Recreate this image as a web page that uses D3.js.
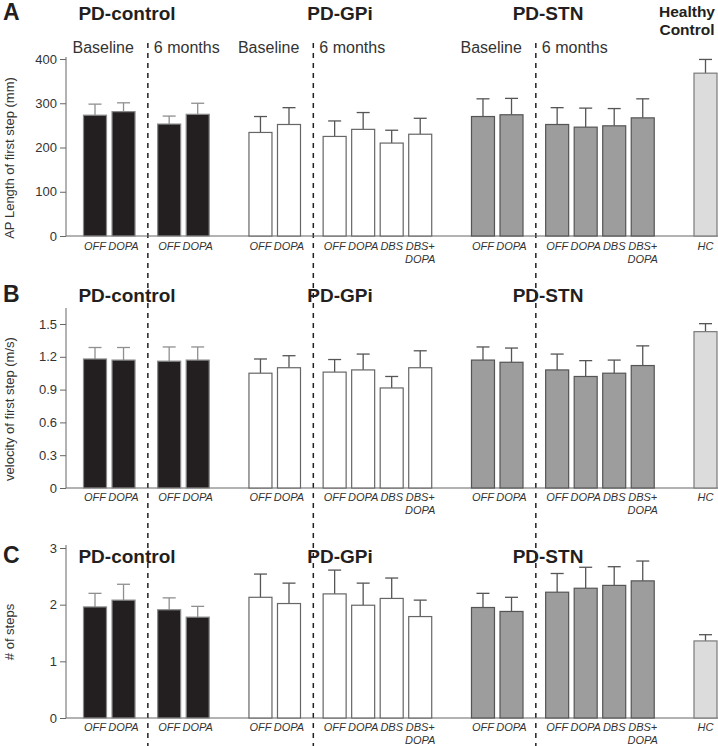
<!DOCTYPE html>
<html lang="en">
<head>
    <meta charset="UTF-8">
    <title>First step parameters</title>
    <script src="https://cdnjs.cloudflare.com/ajax/libs/d3/7.8.5/d3.min.js"></script>
    <style>
        body {
            margin: 0;
            background: #fff;
            font-family: Arial, "Liberation Sans", sans-serif;
        }
        .group-title {
            font-weight: bold;
            font-size: 19px;
            fill: #231f20;
            text-anchor: middle;
        }
        .panel-letter {
            font-weight: bold;
            font-size: 23px;
            fill: #231f20;
        }
        .phase-label {
            font-size: 16px;
            fill: #333;
        }
        .cat-label {
            font-size: 11px;
            font-style: italic;
            fill: #333;
            text-anchor: middle;
        }
        .y-label {
            font-size: 13px;
            fill: #333;
            text-anchor: middle;
        }
        .axis path, .axis line {
            stroke: #666;
        }
        .axis text {
            font-size: 13px;
            fill: #333;
            font-family: Arial, "Liberation Sans", sans-serif;
        }
    </style>
</head>
<body>
    <div id="chart"></div>

    <script>
        // Groups, phases and conditions (one entry per bar, left to right)
        const groups = ["PD-control", "PD-GPi", "PD-STN", "Healthy Control"];
        const phases = ["Baseline", "6 months"];
        const barGroup = [0, 0, 0, 0, 1, 1, 1, 1, 1, 1, 2, 2, 2, 2, 2, 2, 3];
        const barPhase = [0, 0, 1, 1, 0, 0, 1, 1, 1, 1, 0, 0, 1, 1, 1, 1, 0];
        const conditions = ["OFF", "DOPA", "OFF", "DOPA",
                            "OFF", "DOPA", "OFF", "DOPA", "DBS", "DBS+\nDOPA",
                            "OFF", "DOPA", "OFF", "DOPA", "DBS", "DBS+\nDOPA",
                            "HC"];

        // A: AP length of first step (mm)
        const apLength = [273, 281, 253, 275, 234, 252, 225, 241, 210, 230, 270, 274, 252, 246, 249, 267, 368];
        const apLengthErr = [25, 20, 18, 25, 36, 38, 35, 38, 29, 36, 40, 37, 38, 43, 39, 43, 31];

        // B: velocity of first step (m/s)
        const velocity = [1.18, 1.17, 1.16, 1.17, 1.05, 1.10, 1.06, 1.08, 0.915, 1.10, 1.17, 1.15, 1.08, 1.02, 1.05, 1.12, 1.43];
        const velocityErr = [0.105, 0.115, 0.13, 0.12, 0.13, 0.11, 0.115, 0.145, 0.105, 0.155, 0.12, 0.13, 0.145, 0.145, 0.12, 0.18, 0.073];

        // C: number of steps
        const steps = [1.96, 2.08, 1.91, 1.78, 2.13, 2.02, 2.19, 1.99, 2.11, 1.79, 1.95, 1.88, 2.22, 2.29, 2.34, 2.42, 1.36];
        const stepsErr = [0.24, 0.28, 0.21, 0.19, 0.41, 0.36, 0.42, 0.39, 0.36, 0.29, 0.25, 0.25, 0.33, 0.37, 0.33, 0.35, 0.11];

        // Tick labels
        const apTicks = [0, 100, 200, 300, 400];
        const velocityTicks = [0, 0.3, 0.6, 0.9, 1.2, 1.5];
        const stepsTicks = [0, 1, 2, 3];

        const width = 718;
        const height = 746;

        const svg = d3.select("#chart")
            .append("svg")
            .attr("width", width)
            .attr("height", height);

        // Bar styles per group
        const fills = ["#231f20", "#ffffff", "#9d9d9d", "#dcdcdc"];
        const strokes = ["#8a8a8a", "#666666", "#555555", "#7a7a7a"];
        const errColors = ["#8f8f8f", "#555555", "#555555", "#555555"];

        // Horizontal layout in "slot" units: extra gap between phases and between groups
        const units = [];
        let u = 0;
        barGroup.forEach((g, i) => {
            if (i > 0) {
                u += 1;
                if (g !== barGroup[i - 1]) u += 1.2;
                else if (barPhase[i] !== barPhase[i - 1]) u += 0.6;
            }
            units.push(u);
        });

        const x = d3.scaleLinear()
            .domain([0, u])
            .range([95, 705.5]);
        const barWidth = 23;
        const axisX = 66;

        // Phase boundaries (dashed lines) between baseline and 6 months
        const dividers = [];
        for (let i = 1; i < barGroup.length; i++) {
            if (barGroup[i] === barGroup[i - 1] && barPhase[i] !== barPhase[i - 1]) {
                dividers.push((x(units[i - 1]) + x(units[i])) / 2 + 1.5);
            }
        }

        svg.selectAll(".divider")
            .data(dividers)
            .enter().append("line")
            .attr("class", "divider")
            .attr("x1", d => d).attr("x2", d => d)
            .attr("y1", 43).attr("y2", height)
            .attr("stroke", "#231f20")
            .attr("stroke-width", 1.5)
            .attr("stroke-dasharray", "5,5");

        const titleX = [127, 340, 548];

        const panels = [
            { letter: "A", values: apLength, errors: apLengthErr, ticks: apTicks,
              domain: [0, 400], range: [236, 59], axisTop: 57, titleY: 20,
              labelY: 250, yLabel: "AP Length of first step (mm)", yLabelPos: 158, showPhases: true },
            { letter: "B", values: velocity, errors: velocityErr, ticks: velocityTicks,
              domain: [0, 1.5], range: [488, 324], axisTop: 308, titleY: 302,
              labelY: 501, yLabel: "velocity of first step (m/s)", yLabelPos: 409, showPhases: false },
            { letter: "C", values: steps, errors: stepsErr, ticks: stepsTicks,
              domain: [0, 3], range: [718, 548], axisTop: 545, titleY: 563,
              labelY: 731, yLabel: "# of steps", yLabelPos: 632, showPhases: false }
        ];

        panels.forEach(p => {
            const y = d3.scaleLinear().domain(p.domain).range(p.range);
            const g = svg.append("g");

            // Y axis
            const axis = g.append("g")
                .attr("class", "axis")
                .attr("transform", `translate(${axisX},0)`)
                .call(d3.axisLeft(y)
                    .tickValues(p.ticks)
                    .tickSize(6)
                    .tickSizeOuter(0)
                    .tickFormat(d3.format("")));
            axis.select(".domain")
                .attr("d", `M0,${p.axisTop}V${p.range[0]}`);

            // Baseline running across the whole panel
            g.append("line")
                .attr("x1", axisX).attr("x2", width)
                .attr("y1", y(0)).attr("y2", y(0))
                .attr("stroke", "#666");

            // Error bars (upper only)
            const err = g.selectAll(".err")
                .data(p.values.map((v, i) => ({ v, e: p.errors[i], i })))
                .enter().append("g")
                .attr("stroke", d => errColors[barGroup[d.i]])
                .attr("stroke-width", 1.3);
            err.append("line")
                .attr("x1", d => x(units[d.i])).attr("x2", d => x(units[d.i]))
                .attr("y1", d => y(d.v)).attr("y2", d => y(d.v + d.e));
            err.append("line")
                .attr("x1", d => x(units[d.i]) - 6.5).attr("x2", d => x(units[d.i]) + 6.5)
                .attr("y1", d => y(d.v + d.e)).attr("y2", d => y(d.v + d.e));

            // Bars
            g.selectAll(".bar")
                .data(p.values)
                .enter().append("rect")
                .attr("class", "bar")
                .attr("x", (d, i) => x(units[i]) - barWidth / 2)
                .attr("width", barWidth)
                .attr("y", d => y(d))
                .attr("height", d => y(0) - y(d))
                .attr("fill", (d, i) => fills[barGroup[i]])
                .attr("stroke", (d, i) => strokes[barGroup[i]])
                .attr("stroke-width", 1.2);

            // Condition labels below bars
            const labels = g.selectAll(".cat-label")
                .data(conditions)
                .enter().append("text")
                .attr("class", "cat-label")
                .attr("x", (d, i) => x(units[i]))
                .attr("y", p.labelY);
            labels.each(function(d, i) {
                const lines = d.split("\n");
                d3.select(this).selectAll("tspan")
                    .data(lines)
                    .enter().append("tspan")
                    .attr("x", x(units[i]))
                    .attr("dy", (l, k) => k === 0 ? 0 : 13)
                    .text(l => l);
            });

            // Panel letter
            g.append("text")
                .attr("class", "panel-letter")
                .attr("x", 3)
                .attr("y", p.titleY)
                .text(p.letter);

            // Group titles
            g.selectAll(".group-title")
                .data(groups.slice(0, 3))
                .enter().append("text")
                .attr("class", "group-title")
                .attr("x", (d, i) => titleX[i])
                .attr("y", p.titleY)
                .text(d => d);

            // Y axis label
            g.append("text")
                .attr("class", "y-label")
                .attr("transform", `translate(14,${p.yLabelPos}) rotate(-90)`)
                .text(p.yLabel);

            // Baseline / 6 months labels (top panel only)
            if (p.showPhases) {
                dividers.forEach(dx => {
                    g.append("text")
                        .attr("class", "phase-label")
                        .attr("x", dx - 14)
                        .attr("y", 53)
                        .attr("text-anchor", "end")
                        .text(phases[0]);
                    g.append("text")
                        .attr("class", "phase-label")
                        .attr("x", dx + 6)
                        .attr("y", 53)
                        .text(phases[1]);
                });

                // Healthy control heading
                const hc = g.append("text")
                    .attr("class", "group-title")
                    .style("font-size", "15.5px")
                    .attr("x", 687)
                    .attr("y", 17);
                hc.append("tspan").attr("x", 687).text("Healthy");
                hc.append("tspan").attr("x", 687).attr("dy", 18).text("Control");
            }
        });
    </script>
</body>
</html>
